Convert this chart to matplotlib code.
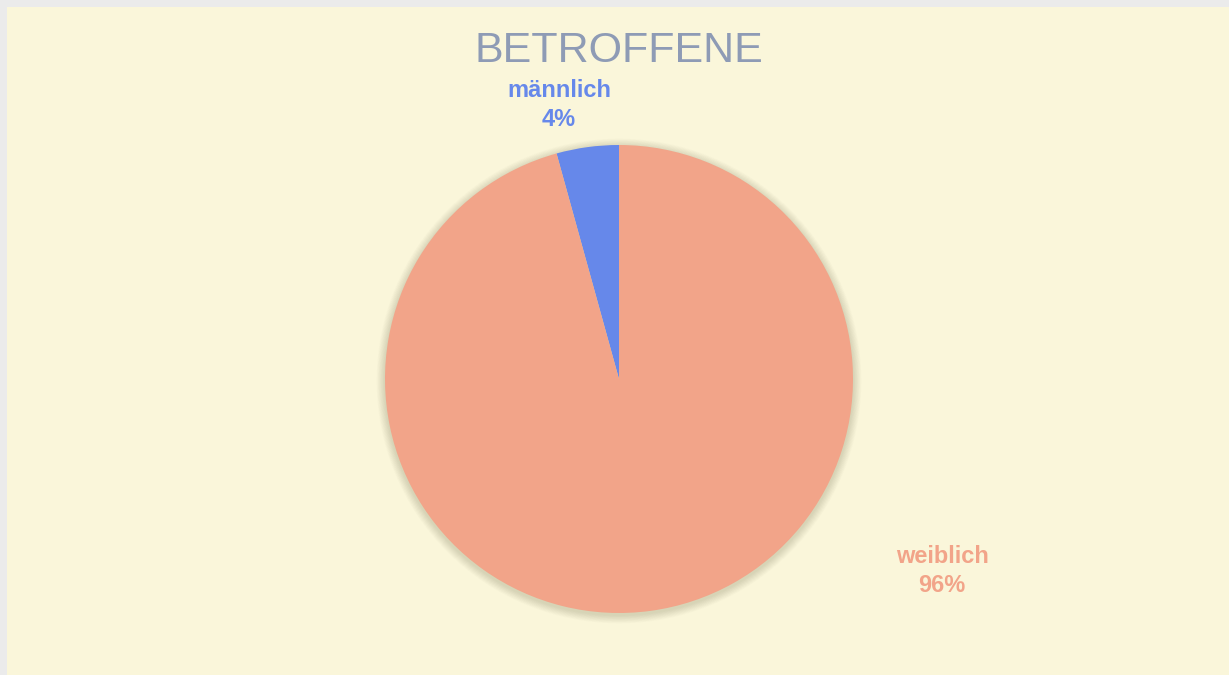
import numpy as np
import matplotlib
matplotlib.use('Agg')
import matplotlib.pyplot as plt
from matplotlib.patches import Circle, Rectangle

plt.rcParams['font.family'] = ['Liberation Sans', 'DejaVu Sans']

title = 'BETROFFENE'
labels = ['männlich', 'weiblich']
values = [4.3, 95.7]
colors = ['#6688EA', '#F2A489']

W, H = 1229, 675
fig = plt.figure(figsize=(W / 100, H / 100), dpi=100)
fig.patch.set_facecolor('#EBEBEB')
ax = fig.add_axes([0, 0, 1, 1])

# cream panel
ax.add_patch(Rectangle((7, 0), W - 7, H - 7, facecolor='#FAF6DA', edgecolor='none', zorder=0))

cx, cy, r = 619, H - 379, 234

# soft shadow
for i in range(12, 0, -1):
    ax.add_patch(Circle((cx, cy - 2), r + i * 0.7, facecolor='#5a5a30',
                        edgecolor='none', alpha=0.016, zorder=1))

ax.pie(values, colors=colors, startangle=90, counterclock=True,
       center=(cx, cy), radius=r, wedgeprops=dict(linewidth=0, zorder=2),
       frame=True)
ax.set_xlim(0, W)
ax.set_ylim(0, H)
ax.set_aspect('equal')
ax.axis('off')

ax.text(619, H - 51, title, ha='center', va='center', fontsize=31,
        color='#8E9BB5', zorder=5)

pos = [(559, H - 105), (942, H - 571)]
for lab, v, c, (x, y) in zip(labels, values, colors, pos):
    ax.text(x, y, f'{lab}\n{round(v)}%', ha='center', va='center',
            fontsize=17, fontweight='bold', color=c, linespacing=1.3, zorder=5)

fig.savefig('out.png', dpi=100, facecolor=fig.get_facecolor())
